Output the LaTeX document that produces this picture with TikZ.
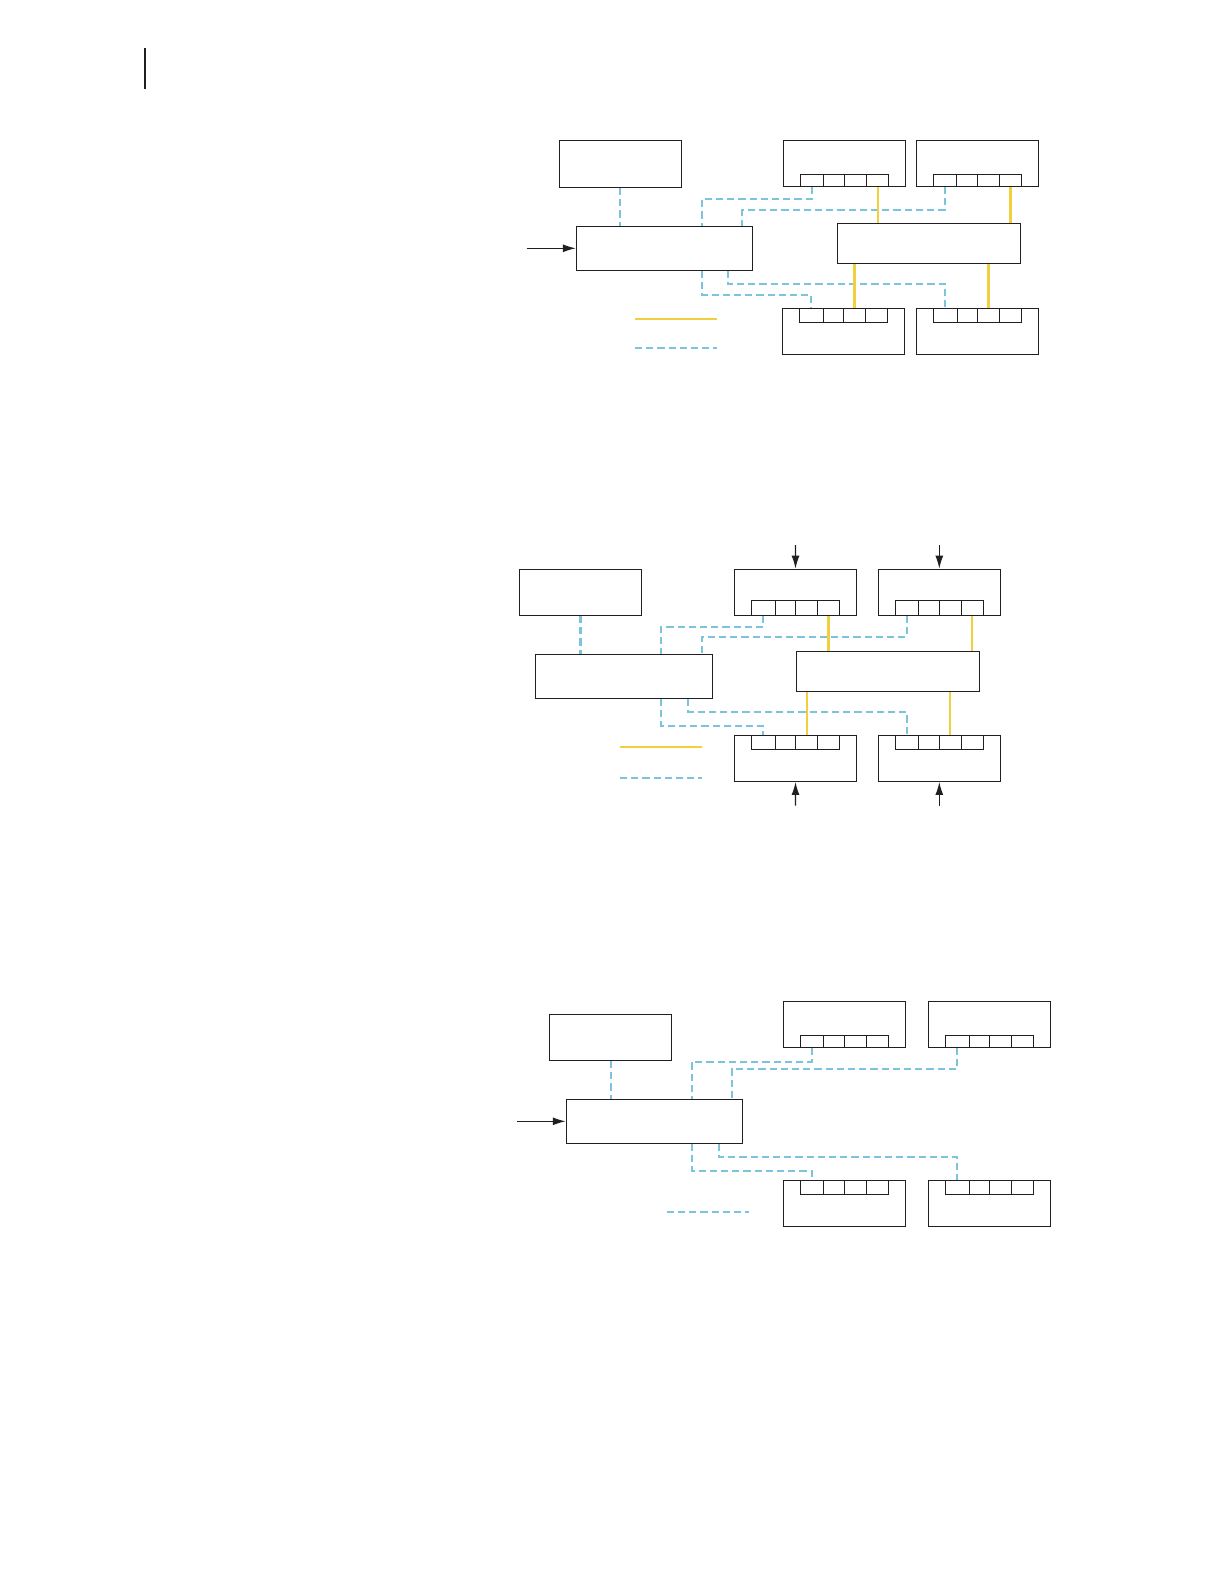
\documentclass[tikz,border=0pt]{standalone}
\usetikzlibrary{arrows.meta,fit}
\definecolor{ink}{HTML}{231F20}
\definecolor{sigblue}{HTML}{7CC4DC}
\definecolor{powyellow}{HTML}{F2D03D}
\tikzset{
  box/.style={draw=ink,line width=0.65pt,inner sep=0pt,rectangle},
  sig/.style={draw=sigblue,line width=1.05pt,dash pattern=on 3.6pt off 2pt},
  pow/.style={draw=powyellow,line width=1.1pt},
  arr/.style={draw=ink,line width=0.65pt,-{Latex[length=6.5pt,width=4pt]}},
}
% name, x1, y1, x2, y2
\newcommand\fitbox[5]{\node[box,fit={(#2,#3) (#4,#5)}] (#1) {};}
% name, x1..x5, ytop, ybot
\newcommand\portrow[8]{%
  \node[box,fit={(#2,#7) (#3,#8)}] (#1-1) {};
  \node[box,fit={(#3,#7) (#4,#8)}] (#1-2) {};
  \node[box,fit={(#4,#7) (#5,#8)}] (#1-3) {};
  \node[box,fit={(#5,#7) (#6,#8)}] (#1-4) {};}
\begin{document}
\begin{tikzpicture}[x=0.5pt,y=-0.5pt]
\useasboundingbox[fill=white] (0,0) rectangle (1224,1584);
% header rule
\draw[ink,line width=1pt] (145,48) -- (145,89);

% ================= Diagram 1 =================
\fitbox{A1}{559.2}{140.3}{681.5}{187.3}
\fitbox{B1}{576.5}{226.3}{752.8}{270.3}
\fitbox{T11}{783.4}{140.3}{905.7}{186.3}
\portrow{t11}{800.3}{823.4}{844.7}{866.8}{888.8}{174.3}{186.3}
\fitbox{T12}{916.4}{140.3}{1038.3}{186.3}
\portrow{t12}{933.2}{956.3}{977.7}{999.4}{1021.4}{174.3}{186.3}
\fitbox{M1}{837.5}{223.3}{1020.4}{263.3}
\fitbox{D11}{782.4}{308.3}{904.3}{354.3}
\portrow{d11}{799.3}{823.4}{843.4}{865.4}{887.8}{308.3}{322.3}
\fitbox{D12}{916.4}{308.3}{1038.3}{354.3}
\portrow{d12}{933.2}{957.3}{977.7}{999.4}{1021.4}{308.3}{322.3}
\coordinate (in1) at (526.9,248.3);
\draw[arr] (in1) -- (B1.west);
\coordinate (j11) at (701.8,199);
\coordinate (j12) at (742.1,210);
\coordinate (j13) at (701.8,294.7);
\coordinate (j14) at (727.6,284);
\draw[sig] (A1.south) -- (A1.south |- B1.north);
\draw[sig] (t11-1.south) |- (j11) -- (j11 |- B1.north);
\draw[sig] (t12-1.south) |- (j12) -- (j12 |- B1.north);
\draw[sig] (j13 |- B1.south) -- (j13) -| (d11-1.north);
\draw[sig] (j14 |- B1.south) -- (j14) -| (d12-1.north);
\draw[pow] (t11-4.south) -- (t11-4.south |- M1.north);
\draw[pow] (t12-4.south) -- (t12-4.south |- M1.north);
\draw[pow] (d11-3.north |- M1.south) -- (d11-3.north);
\draw[pow] (d12-3.north |- M1.south) -- (d12-3.north);
\coordinate (ly1a) at (635,318.7); \coordinate (ly1b) at (717,318.7);
\coordinate (lb1a) at (635,348);   \coordinate (lb1b) at (717,348);
\draw[pow] (ly1a) -- (ly1b);
\draw[sig] (lb1a) -- (lb1b);

% ================= Diagram 2 =================
\fitbox{A2}{519.3}{569.3}{641.7}{615.3}
\fitbox{B2}{535.3}{654.3}{712.7}{698.3}
\fitbox{T21}{734.3}{569.3}{856.7}{615.3}
\portrow{t21}{751.3}{775.3}{795.7}{817.7}{839.3}{600.3}{615.3}
\fitbox{T22}{878.3}{569.3}{1000.3}{615.3}
\portrow{t22}{895.3}{918.3}{939.3}{961.3}{983.3}{600.3}{615.3}
\fitbox{M2}{796.3}{651.3}{979.3}{691.3}
\fitbox{D21}{734.3}{735.3}{856.7}{781.3}
\portrow{d21}{751.3}{775.3}{795.7}{817.7}{839.3}{735.3}{749.3}
\fitbox{D22}{878.3}{735.3}{1000.3}{781.3}
\portrow{d22}{895.3}{918.3}{939.3}{961.3}{983.3}{735.3}{749.3}
\coordinate (in21) at (795.5,545);
\coordinate (in22) at (939.3,545);
\coordinate (in23) at (795.5,805.7);
\coordinate (in24) at (939.3,805.7);
\draw[arr] (in21) -- (T21.north);
\draw[arr] (in22) -- (T22.north);
\draw[arr] (in23) -- (D21.south);
\draw[arr] (in24) -- (D22.south);
\coordinate (j21) at (661,627);
\coordinate (j22) at (701.7,637);
\coordinate (j23) at (661,725.7);
\coordinate (j24) at (688,711.7);
\draw[sig] (A2.south) -- (A2.south |- B2.north);
\draw[sig] (t21-1.south) |- (j21) -- (j21 |- B2.north);
\draw[sig] (t22-1.south) |- (j22) -- (j22 |- B2.north);
\draw[sig] (j23 |- B2.south) -- (j23) -| (d21-1.north);
\draw[sig] (j24 |- B2.south) -- (j24) -| (d22-1.north);
\draw[pow] (t21-4.south) -- (t21-4.south |- M2.north);
\draw[pow] (t22-4.south) -- (t22-4.south |- M2.north);
\draw[pow] (d21-3.north |- M2.south) -- (d21-3.north);
\draw[pow] (d22-3.north |- M2.south) -- (d22-3.north);
\coordinate (ly2a) at (620,747); \coordinate (ly2b) at (702.3,747);
\coordinate (lb2a) at (620,778); \coordinate (lb2b) at (702.3,778);
\draw[pow] (ly2a) -- (ly2b);
\draw[sig] (lb2a) -- (lb2b);

% ================= Diagram 3 =================
\fitbox{A3}{549.3}{1014.3}{671.8}{1060.3}
\fitbox{B3}{566.4}{1099.3}{742.5}{1143.3}
\fitbox{T31}{783.2}{1001.3}{905.7}{1047.3}
\portrow{t31}{800.4}{823.2}{844.6}{866.8}{888.6}{1035.3}{1047.3}
\fitbox{T32}{928.2}{1001.3}{1050.7}{1047.3}
\portrow{t32}{945.4}{969.3}{989.3}{1011.8}{1033.6}{1035.3}{1047.3}
\fitbox{D31}{783.2}{1180.3}{905.7}{1226.3}
\portrow{d31}{800.4}{823.2}{844.6}{866.8}{888.6}{1180.3}{1194.3}
\fitbox{D32}{928.2}{1180.3}{1050.7}{1226.3}
\portrow{d32}{945.4}{969.3}{989.3}{1011.8}{1033.6}{1180.3}{1194.3}
\coordinate (in3) at (517.1,1121.3);
\draw[arr] (in3) -- (B3.west);
\coordinate (j31) at (691.8,1061.7);
\coordinate (j32) at (731.8,1069);
\coordinate (j33) at (691.8,1170.7);
\coordinate (j34) at (718.6,1156.7);
\draw[sig] (A3.south) -- (A3.south |- B3.north);
\draw[sig] (t31-1.south) |- (j31) -- (j31 |- B3.north);
\draw[sig] (t32-1.south) |- (j32) -- (j32 |- B3.north);
\draw[sig] (j33 |- B3.south) -- (j33) -| (d31-1.north);
\draw[sig] (j34 |- B3.south) -- (j34) -| (d32-1.north);
\coordinate (lb3a) at (666.8,1211.7); \coordinate (lb3b) at (748.9,1211.7);
\draw[sig] (lb3a) -- (lb3b);
\end{tikzpicture}
\end{document}
